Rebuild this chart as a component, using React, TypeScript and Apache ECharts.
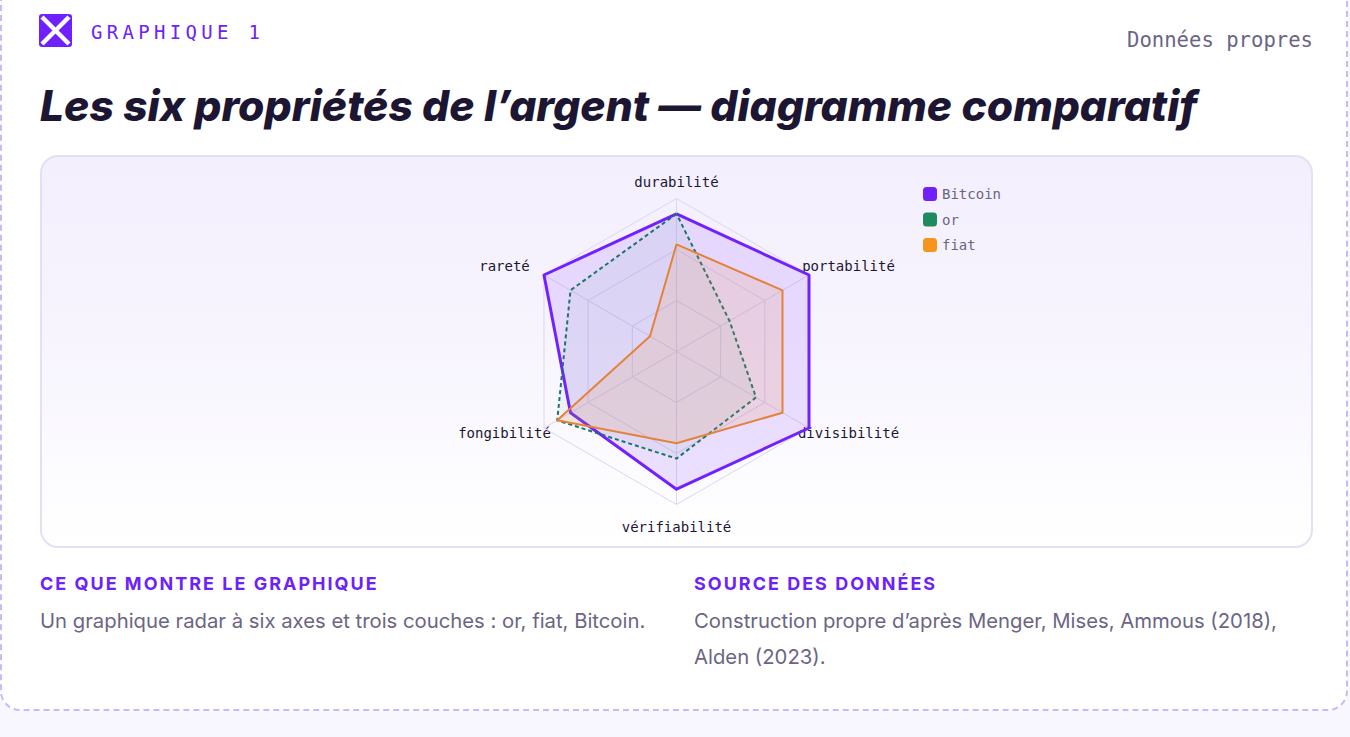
import { useEffect, useRef } from "react";
import * as echarts from "echarts";

// axes listed counter-clockwise from the top (ECharts radar order)
const indicators = ["durabilité", "rareté", "fongibilité", "vérifiabilité", "divisibilité", "portabilité"];
const seriesNames = ["Bitcoin", "or", "fiat"];
const bitcoinValues = [9, 10, 8, 9, 10, 10];
const orValues = [9, 8, 9, 7, 6, 4];
const fiatValues = [7, 2, 9, 6, 8, 8];
const maxValue = 10;

// where each axis name sits, relative to the radar centre (same order as indicators)
const nameOffsets = [
  [0, -169.5],
  [-172, -85.5],
  [-172, 81.5],
  [0, 175.5],
  [172, 81.5],
  [172, -85.5],
];

const MONO = "'DejaVu Sans Mono', monospace";
const SANS = "Inter, 'Noto Sans', sans-serif";
const PURPLE = "#6d22f7";
const MUTED = "#6b6585";
const INK = "#1c1633";

function RadarChart() {
  const chartRef = useRef<HTMLDivElement>(null);

  useEffect(() => {
    if (!chartRef.current) return;
    const chart = echarts.init(chartRef.current, null, { renderer: "svg" });
    const cx = chart.getWidth() / 2;
    const cy = chart.getHeight() / 2;

    const option = {
      animation: false,
      legend: {
        orient: "vertical",
        left: 881,
        top: 30,
        padding: 0,
        itemWidth: 14,
        itemHeight: 14,
        itemGap: 11.5,
        icon: "roundRect",
        data: seriesNames,
        textStyle: { fontFamily: MONO, fontSize: 14, color: MUTED },
      },
      radar: {
        center: ["50%", "50%"],
        radius: 153,
        splitNumber: 3,
        shape: "polygon",
        indicator: indicators.map((name) => ({ name, max: maxValue, min: 0 })),
        axisName: { show: false },
        axisLine: { lineStyle: { color: "#dcd5f6", width: 1 } },
        splitLine: { lineStyle: { color: "#dcd5f6", width: 1 } },
        splitArea: { show: false },
      },
      graphic: indicators.map((name, i) => ({
        type: "text",
        x: cx + nameOffsets[i][0],
        y: cy + nameOffsets[i][1],
        silent: true,
        style: {
          text: name,
          fill: INK,
          font: `14px ${MONO}`,
          align: "center",
          verticalAlign: "middle",
        },
      })),
      series: [
        {
          type: "radar",
          symbol: "none",
          data: [
            {
              name: "Bitcoin",
              value: bitcoinValues,
              itemStyle: { color: "#7020ff" },
              lineStyle: { color: "#7020ff", width: 3 },
              areaStyle: { color: "rgba(132, 60, 255, 0.2)" },
            },
            {
              name: "or",
              value: orValues,
              itemStyle: { color: "#1f8a5f" },
              lineStyle: { color: "#1d7468", width: 2, type: [4, 3] },
              areaStyle: { color: "rgba(31, 138, 95, 0.08)" },
            },
            {
              name: "fiat",
              value: fiatValues,
              itemStyle: { color: "#f7941d" },
              lineStyle: { color: "#e3823c", width: 2 },
              areaStyle: { color: "rgba(240, 140, 60, 0.2)" },
            },
          ],
        },
      ],
    };

    chart.setOption(option);
    return () => {
      chart.dispose();
    };
  }, []);

  return <div ref={chartRef} style={{ width: "100%", height: "100%" }} />;
}

export default function App() {
  useEffect(() => {
    document.body.style.margin = "0";
    document.body.style.background = "#f8f6fe";
  }, []);

  const heading = {
    fontFamily: SANS,
    fontSize: 18,
    fontWeight: 700,
    letterSpacing: "2px",
    color: PURPLE,
    lineHeight: "24px",
  } as const;
  const body = { marginTop: 7, fontFamily: SANS, fontSize: 20.3, lineHeight: "36px", color: MUTED } as const;

  return (
    <div style={{ position: "relative", width: 1350, height: 737, overflow: "hidden", background: "#f8f6fe" }}>
      <div
        style={{
          position: "absolute",
          left: 0,
          top: -40,
          width: 1348,
          height: 751,
          boxSizing: "border-box",
          border: "2px dashed #c9b9fb",
          borderRadius: 20,
          background: "#ffffff",
        }}
      />

      {/* logo */}
      <svg style={{ position: "absolute", left: 39, top: 14 }} width={33} height={33} viewBox="0 0 33 33">
        <rect x={0} y={0} width={33} height={33} rx={3} fill="#7020ff" />
        <line x1={3} y1={3} x2={30} y2={30} stroke="#ffffff" strokeWidth={4.5} />
        <line x1={30} y1={3} x2={3} y2={30} stroke="#ffffff" strokeWidth={4.5} />
      </svg>

      <div
        style={{
          position: "absolute",
          left: 91,
          top: 19,
          lineHeight: "26px",
          fontFamily: MONO,
          fontSize: 19,
          letterSpacing: "4.3px",
          color: PURPLE,
          whiteSpace: "nowrap",
        }}
      >
        GRAPHIQUE 1
      </div>

      <div
        style={{
          position: "absolute",
          right: 37,
          top: 27,
          lineHeight: "26px",
          fontFamily: MONO,
          fontSize: 20.6,
          color: MUTED,
          whiteSpace: "nowrap",
        }}
      >
        Données propres
      </div>

      <div
        style={{
          position: "absolute",
          left: 40,
          top: 80,
          lineHeight: "52px",
          fontFamily: SANS,
          fontSize: 42.6,
          fontWeight: 800,
          fontStyle: "italic",
          color: INK,
          whiteSpace: "nowrap",
        }}
      >
        Les six propriétés de l’argent — diagramme comparatif
      </div>

      <div
        style={{
          position: "absolute",
          left: 40,
          top: 155,
          width: 1273,
          height: 393,
          boxSizing: "border-box",
          border: "2px solid #e4dff7",
          borderRadius: 18,
          background: "linear-gradient(180deg, #f3effd 0%, #f7f4fe 45%, #ffffff 100%)",
          overflow: "hidden",
        }}
      >
        <RadarChart />
      </div>

      <div style={{ position: "absolute", left: 40, top: 572, width: 619 }}>
        <div style={heading}>CE QUE MONTRE LE GRAPHIQUE</div>
        <div style={body}>Un graphique radar à six axes et trois couches : or, fiat, Bitcoin.</div>
      </div>

      <div style={{ position: "absolute", left: 694, top: 572, width: 619 }}>
        <div style={heading}>SOURCE DES DONNÉES</div>
        <div style={body}>Construction propre d’après Menger, Mises, Ammous (2018), Alden (2023).</div>
      </div>
    </div>
  );
}
